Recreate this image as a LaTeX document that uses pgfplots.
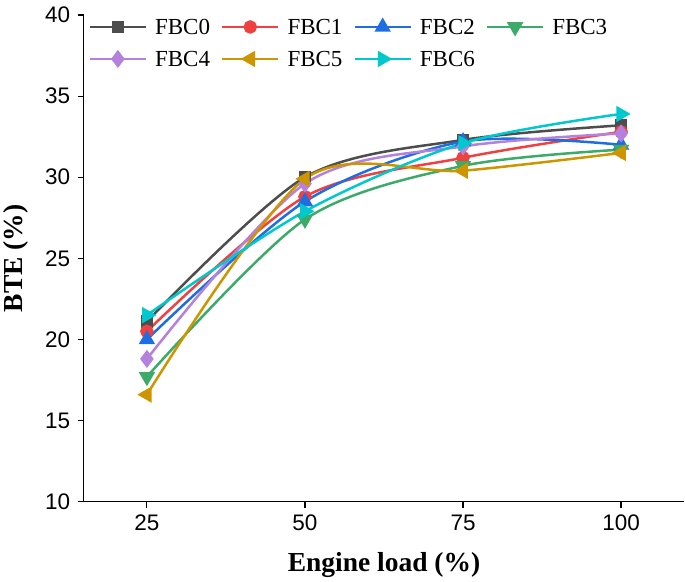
\documentclass[border=0pt]{standalone}
\usepackage{pgfplots}
\pgfplotsset{compat=1.18}
\usepackage{fontspec}
\setmainfont{Liberation Serif}
\newfontfamily\tickfont{Liberation Sans}
\definecolor{c0}{RGB}{77,77,77}
\definecolor{c1}{RGB}{240,65,65}
\definecolor{c2}{RGB}{30,110,225}
\definecolor{c3}{RGB}{60,170,105}
\definecolor{c4}{RGB}{180,130,220}
\definecolor{c5}{RGB}{205,150,0}
\definecolor{c6}{RGB}{0,200,205}
\begin{document}
\begin{tikzpicture}
\begin{axis}[
  name=ax,
  scale only axis, width=601pt, height=487pt,
  xmin=15, xmax=110, ymin=10, ymax=40,
  axis lines=left, axis line style={-, line width=1.4pt},
  xtick={25,50,75,100}, ytick={10,15,...,40},
  tick align=outside, major tick length=6pt, tick style={line width=1.2pt, black},
  /pgf/number format/assume math mode=true,
  tick label style={font=\tickfont\fontsize{22.5}{26}\selectfont},
  yticklabel style={xshift=-4pt},
  xticklabel style={yshift=-4pt},
  xlabel={\textbf{Engine load (\%)}}, ylabel={\textbf{BTE (\%)}},
  label style={font=\fontsize{27.5}{31}\selectfont},
  xlabel style={at={(axis description cs:0.5,-0.131)}, anchor=center},
  ylabel style={at={(axis description cs:-0.113,0.5)}, anchor=center, rotate=0},
  every axis plot/.append style={line width=2.5pt, smooth},
  mark size=5pt,
  legend columns=4,
  legend style={at={(axis description cs:0,1)}, anchor=north west, xshift=5pt, yshift=-4pt,
    draw=none, fill=none, inner sep=0pt, outer sep=0pt,
    font=\fontsize{23}{26}\selectfont, row sep=16pt,
    nodes={inner xsep=0pt, inner ysep=0pt, text height=16pt, text depth=0pt},
    /tikz/every odd column/.append style={column sep=8pt},
    /tikz/every even column/.append style={column sep=11pt}},
  legend image code/.code={\draw[mark repeat=2,mark phase=2] plot coordinates {(0pt,0pt) (28pt,0pt) (56pt,0pt)};},
]
\addplot[c0, mark=square*, mark size=5pt] coordinates {(25,21.1) (50,30.0) (75,32.3) (100,33.2)};
\addlegendentry{FBC0}
\addplot[c1, mark=*, mark size=5.5pt] coordinates {(25,20.5) (50,28.8) (75,31.2) (100,32.8)};
\addlegendentry{FBC1}
\addplot[c2, mark=triangle*, mark size=7pt] coordinates {(25,20.0) (50,28.5) (75,32.2) (100,32.0)};
\addlegendentry{FBC2}
\addplot[c3, mark=triangle*, mark options={rotate=180}, mark size=7pt] coordinates {(25,17.7) (50,27.4) (75,30.7) (100,31.7)};
\addlegendentry{FBC3}
\addplot[c4, mark=diamond*, mark size=7pt] coordinates {(25,18.8) (50,29.6) (75,31.9) (100,32.7)};
\addlegendentry{FBC4}
\addplot[c5, mark=triangle*, mark options={rotate=90}, mark size=7pt] coordinates {(25,16.6) (50,29.9) (75,30.4) (100,31.5)};
\addlegendentry{FBC5}
\addplot[c6, mark=triangle*, mark options={rotate=-90}, mark size=7pt] coordinates {(25,21.5) (50,27.9) (75,32.1) (100,33.9)};
\addlegendentry{FBC6}
\end{axis}
\path ([xshift=-83pt,yshift=-80pt]ax.south west) rectangle ([xshift=0pt,yshift=15pt]ax.north east);
\end{tikzpicture}
\end{document}
